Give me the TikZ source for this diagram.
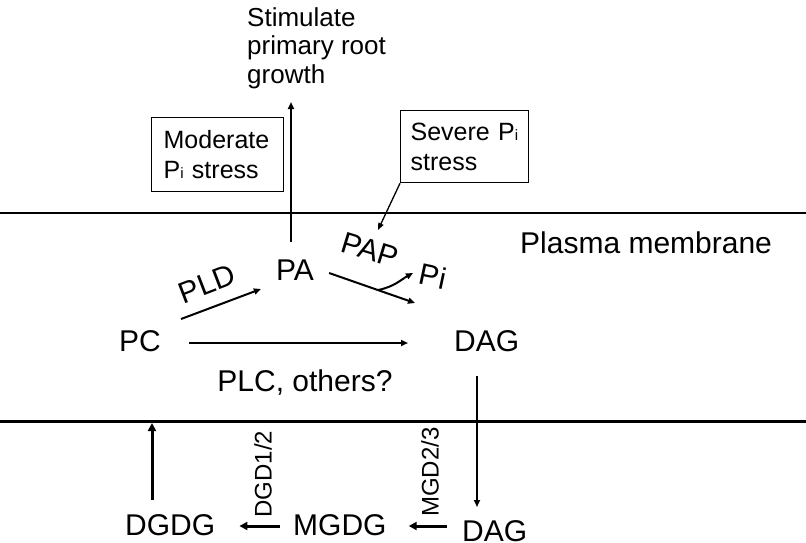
\documentclass[tikz,border=0pt]{standalone}
\usepackage{fontspec}
\setmainfont{Liberation Sans}
\usetikzlibrary{arrows.meta,calc}
\begin{document}
\begin{tikzpicture}[x=1pt,y=-1pt,
  lbl/.style={inner sep=0pt,font=\fontsize{30}{36}\selectfont},
  rlbl/.style={inner sep=0pt,font=\fontsize{24}{28}\selectfont},
  boxtxt/.style={draw,line width=1.3pt,anchor=north west,align=left,inner ysep=0pt,font=\fontsize{25}{30}\selectfont},
  arr/.style={line width=2pt,-{Triangle[length=7pt,width=6pt]}},
  thinarr/.style={line width=1.3pt,-{Triangle[length=7pt,width=5.5pt]}},
  thickarr/.style={line width=3pt,-{Triangle[length=8pt,width=8pt]}},
  memline/.style={line width=2.5pt}]
\useasboundingbox (0,0) rectangle (806,542);
\fill[white] (0,0) rectangle (806,542);
% membranes
\coordinate (topL) at (0,213);
\coordinate (topR) at (806,213);
\coordinate (botL) at (0,421.5);
\coordinate (botR) at (806,421.5);
\draw[memline] (topL) -- (topR);
\draw[memline] (botL) -- (botR);
% labels
\node[lbl,anchor=base] (pa) at (295,280) {PA};
\node[lbl,anchor=base] (pc) at (140,351) {PC};
\node[lbl,anchor=base west] (dag1) at (454,351) {DAG};
\node[lbl,anchor=base] (plc) at (305,391) {PLC, others?};
\node[lbl,anchor=base west] (pm) at (520,253) {Plasma membrane};
\node[lbl,rotate=21] (pld) at (207,284) {PLD};
\node[lbl,rotate=-17] (pap) at (370,250) {PAP};
\node[lbl,rotate=-12] (pi) at (433,276) {Pi};
\node[lbl,anchor=base west] (dgdg) at (125,535) {DGDG};
\node[lbl,anchor=base west] (mgdg) at (293,535) {MGDG};
\node[lbl,anchor=base west] (dag2) at (462,541) {DAG};
\node[rlbl,rotate=90] (dgd) at (263,474) {DGD1/2};
\node[rlbl,rotate=90] (mgd) at (430,472) {MGD2/3};
\node[inner sep=0pt,anchor=north west,align=left,font=\fontsize{26}{28.5}\selectfont] (stim) at (247,7) {Stimulate\\primary root\\growth};
\node[boxtxt,inner xsep=12pt,text width=108pt,minimum height=74pt] (mod) at (151,117) {Moderate\\P{\fontsize{15}{15}\selectfont i} stress};
\node[boxtxt,inner xsep=10pt,text width=108pt,minimum height=72pt] (sev) at (400,110) {Severe P{\fontsize{15}{15}\selectfont i}\\stress};
% connectors
\draw[arr] ($(pc.base east)+(28,-8)$) -- ($(dag1.base west)+(-46,-8)$);
\draw[arr] ($(pc.base east)+(20,-32)$) -- ($(pa.base west)+(-15,9)$);
\draw[arr] ($(pa.base east)+(15,-7)$) -- ($(dag1.base west)+(-39,-48)$);
\draw[arr] ($(pa.base)+(-4,-38)$) -- ($(pa.base)+(-4,-178)$);
\draw[thinarr] (sev.south west) -- ($(pap.center)+(8,-20)$);
\draw[arr] ($(pi.center)+(-55,14)$) .. controls ($(pi.center)+(-39,11)$) and ($(pi.center)+(-31,3)$) .. ($(pi.center)+(-20,-3)$);
\draw[arr] ($(dag1.base west)+(23,25)$) -- ($(dag2.base west)+(15,-34)$);
\draw[thickarr] ($(dgdg.base west)+(27,-35)$) -- ($(dgdg.base west)+(27,-112)$);
\draw[thickarr] ($(mgdg.base west)+(-13,-9)$) -- ($(dgdg.base east)+(24,-9)$);
\draw[thickarr] ($(dag2.base west)+(-15,-15)$) -- ($(mgdg.base east)+(22,-9)$);
\end{tikzpicture}
\end{document}
